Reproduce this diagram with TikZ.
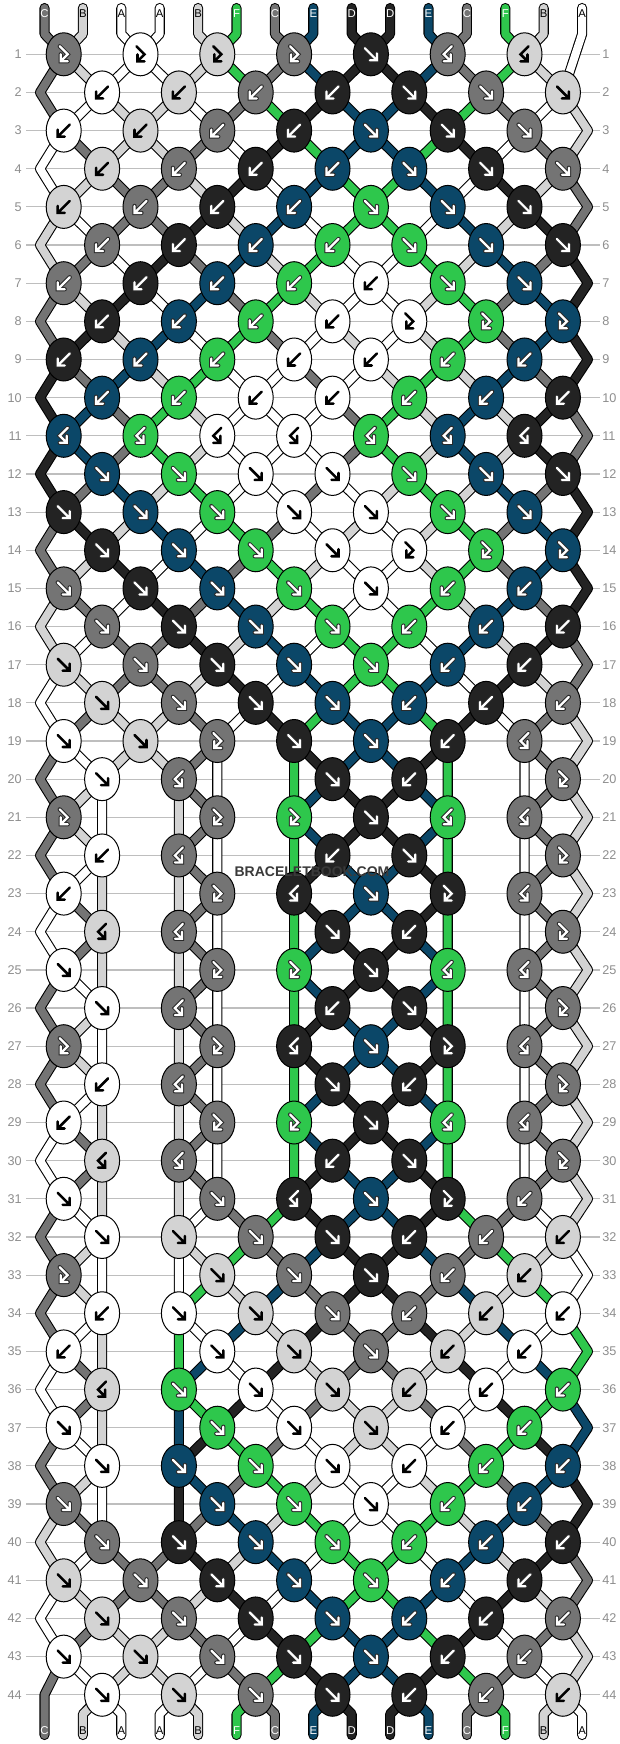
\documentclass[tikz,border=0pt]{standalone}
\usepackage{fontspec}
\setmainfont{Liberation Sans}

\definecolor{colA}{HTML}{FFFFFF}
\definecolor{colB}{HTML}{D3D3D3}
\definecolor{colC}{HTML}{747474}
\definecolor{colD}{HTML}{232323}
\definecolor{colE}{HTML}{0B4768}
\definecolor{colF}{HTML}{2EC74C}
\definecolor{rowgray}{HTML}{BEBEBE}
\definecolor{labelgray}{HTML}{8E8E8E}
\definecolor{glyphline}{HTML}{2A2A2A}
\definecolor{wmgray}{HTML}{3A3A3A}

% append a point to the path of string #1
\newcommand\addpoint[3]{%
  \expandafter\xdef\csname spath#1\endcsname{\csname spath#1\endcsname\space -- (#2,#3)}}

% one knot: x, y, colour, kind (f b g h)
\newcommand\drawknot[4]{%
  \draw[knotshape, fill=#3] (#1,#2) ellipse [x radius=17.5, y radius=21.5];
  \if f#4\def\glyph{(-6,-6) -- (6,6) (6,-1) -- (6,6) -- (-1,6)}\fi
  \if b#4\def\glyph{(6,-6) -- (-6,6) (-6,-1) -- (-6,6) -- (1,6)}\fi
  \if g#4\def\glyph{(-4,-8) -- (4,0) -- (-3,7) (-3,0) -- (-3,7) -- (4,7)}\fi
  \if h#4\def\glyph{(4,-8) -- (-4,0) -- (3,7) (3,0) -- (3,7) -- (-4,7)}\fi
  \def\knotfill{#3}\def\tmpA{colA}\def\tmpB{colB}%
  \ifx\knotfill\tmpA\def\darkglyph{0}\else
    \ifx\knotfill\tmpB\def\darkglyph{0}\else\def\darkglyph{1}\fi\fi
  \begin{scope}[shift={(#1,#2)}]
    \ifnum\darkglyph=1
      \edef\tmp{\noexpand\draw[glyphedge] \glyph; \noexpand\draw[glyphwhite] \glyph;}\tmp
    \else
      \edef\tmp{\noexpand\draw[glyphblack] \glyph;}\tmp
    \fi
  \end{scope}}

\begin{document}
\begin{tikzpicture}[x=0.75pt, y=-0.75pt,
  % strings
  strandedge/.style={draw=black, line width=7.6pt, line cap=round, line join=round},
  strandfill/.style={line width=6pt, line cap=round, line join=round},
  % knots and arrows
  knotshape/.style={draw=black, line width=0.75pt},
  glyphedge/.style={draw=glyphline, line width=3.2pt, line cap=round},
  glyphwhite/.style={draw=white, line width=1.7pt, line cap=round},
  glyphblack/.style={draw=black, line width=1.9pt, line cap=round},
  % grid and labels
  rowline/.style={draw=rowgray, line width=0.9pt},
  rownum/.style={text=labelgray, font=\fontsize{9.5}{10}\selectfont, inner sep=0pt},
  strandlabel/.style={font=\fontsize{8.5}{9}\selectfont, inner sep=0pt},
  watermark/.style={font=\bfseries\fontsize{10.5}{11}\selectfont, text=wmgray, inner sep=0pt}]

\fill[white] (0,0) rectangle (620,1744);
\useasboundingbox (0,0) rectangle (620,1744);

% row lines and numbers
\foreach \rw in {1,...,44} {
  \pgfmathsetmacro\yy{54.3+38.15*(\rw-1)}
  \draw[rowline] (26,\yy) -- (600,\yy);
  \node[rownum, anchor=east] (numL\rw) at (22,\yy) {\rw};
  \node[rownum, anchor=west] (numR\rw) at (602,\yy) {\rw};
}

% strings at the top
\gdef\knotlist{}
\foreach \lett/\ltc [count=\i] in {C/white,B/black,A/black,A/black,B/black,F/white,C/white,E/white,D/white,D/white,E/white,C/white,F/white,B/black,A/black} {
  \expandafter\xdef\csname scol\i\endcsname{col\lett}
  \expandafter\xdef\csname spos\i\endcsname{\i}
  \pgfmathsetmacro\xx{44.5+38.4*(\i-1)}
  \expandafter\xdef\csname spath\i\endcsname{(\xx,8) -- (\xx,34)}
}

% knots row by row: f forward, b backward, g forward-backward, h backward-forward, n none
\foreach \rowt [count=\rw] in {
  {g,g,g,g,f,h,h},{b,b,b,b,f,f,f},{b,b,b,b,f,f,f},{b,b,b,b,f,f,f},
  {b,b,b,b,f,f,f},{b,b,b,b,f,f,f},{b,b,b,b,b,f,f},{b,b,b,b,g,g,g},
  {b,b,b,b,b,b,b},{b,b,b,b,b,b,b},{h,h,h,h,h,h,h},{f,f,f,f,f,f,f},
  {f,f,f,f,f,f,f},{f,f,f,f,g,g,g},{f,f,f,f,f,b,b},{f,f,f,f,b,b,b},
  {f,f,f,f,f,b,b},{f,f,f,f,b,b,b},{f,f,g,f,f,b,h},{f,h,n,f,b,n,g},
  {g,n,g,g,f,h,h},{b,h,n,b,f,n,g},{b,n,g,h,f,g,h},{h,h,n,f,b,n,g},
  {f,n,g,g,f,h,h},{f,h,n,b,f,n,g},{g,n,g,h,f,g,h},{b,h,n,f,b,n,g},
  {b,n,g,g,f,h,h},{h,h,n,b,f,n,g},{f,n,f,h,f,g,b},{f,f,f,f,b,b,b},
  {g,n,f,f,f,b,b},{b,f,f,f,b,b,b},{b,n,f,f,f,b,b},{h,f,f,f,b,b,b},
  {f,n,f,f,f,b,b},{f,f,f,f,b,b,b},{f,n,f,f,f,b,b},{f,f,f,f,b,b,b},
  {f,f,f,f,f,b,b},{f,f,f,f,b,b,b},{f,f,f,f,f,b,b},{f,f,f,f,b,b,b}} {
  \pgfmathsetmacro\yy{54.3+38.15*(\rw-1)}
  \foreach \kt [count=\kn] in \rowt {
    \ifodd\rw\relax
      \edef\pl{\the\numexpr2*\kn-1\relax}\edef\pr{\the\numexpr2*\kn\relax}
      \pgfmathsetmacro\kx{76.8*\kn-13.1}
    \else
      \edef\pl{\the\numexpr2*\kn\relax}\edef\pr{\the\numexpr2*\kn+1\relax}
      \pgfmathsetmacro\kx{76.8*\kn+25.3}
    \fi
    \edef\sL{\csname spos\pl\endcsname}\edef\sR{\csname spos\pr\endcsname}
    \if n\kt
      \pgfmathsetmacro\xl{\kx-38.4}\pgfmathsetmacro\xr{\kx+38.4}
      \addpoint{\sL}{\xl}{\yy}\addpoint{\sR}{\xr}{\yy}
    \else
      \addpoint{\sL}{\kx}{\yy}\addpoint{\sR}{\kx}{\yy}
      \def\lefty{0}\def\swp{0}
      \if f\kt\def\lefty{1}\def\swp{1}\fi
      \if g\kt\def\lefty{1}\fi
      \if b\kt\def\swp{1}\fi
      \ifnum\lefty=1 \edef\kc{\csname scol\sL\endcsname}\else\edef\kc{\csname scol\sR\endcsname}\fi
      \xdef\knotlist{\unexpanded\expandafter{\knotlist}\noexpand\drawknot{\kx}{\yy}{\kc}{\kt}}
      \ifnum\swp=1
        \expandafter\xdef\csname spos\pl\endcsname{\sR}
        \expandafter\xdef\csname spos\pr\endcsname{\sL}
      \fi
    \fi
  }
  % the free string at the edge
  \ifodd\rw\relax
    \ifnum\rw>1 \edef\sE{\csname spos15\endcsname}\addpoint{\sE}{588}{\yy}\fi
  \else
    \edef\sE{\csname spos1\endcsname}
    \ifnum\rw=44 \addpoint{\sE}{44.5}{\yy}\else\addpoint{\sE}{40}{\yy}\fi
  \fi
}

% strings at the bottom
\foreach \p in {1,...,15} {
  \edef\sE{\csname spos\p\endcsname}
  \pgfmathsetmacro\xx{44.5+38.4*(\p-1)}
  \addpoint{\sE}{\xx}{1714}\addpoint{\sE}{\xx}{1735}
}

\foreach \s in {1,...,15} {\edef\tmp{\noexpand\draw[strandedge] \csname spath\s\endcsname;}\tmp}
\foreach \s in {1,...,15} {\edef\tmp{\noexpand\draw[strandfill, draw=\csname scol\s\endcsname] \csname spath\s\endcsname;}\tmp}

\knotlist

% string letters
\foreach \lett/\ltc [count=\i] in {C/white,B/black,A/black,A/black,B/black,F/white,C/white,E/white,D/white,D/white,E/white,C/white,F/white,B/black,A/black} {
  \pgfmathsetmacro\xx{44.5+38.4*(\i-1)}
  \node[strandlabel, text=\ltc] (lt\i) at (\xx,14) {\lett};
  \node[strandlabel, text=\ltc] (lb\i) at (\xx,1731) {\lett};
}

\node[watermark] (wm) at (312,872) {BRACELETBOOK.COM};
\end{tikzpicture}
\end{document}
